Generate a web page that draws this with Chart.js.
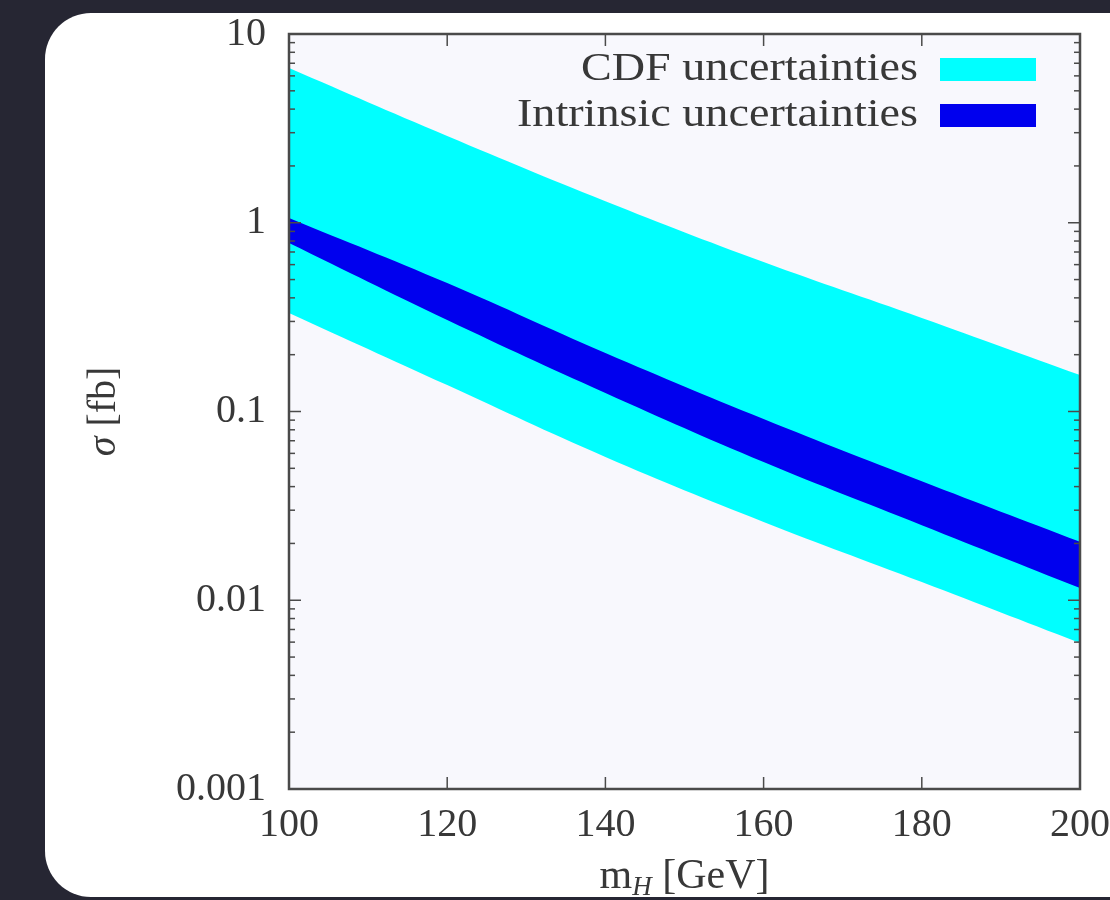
<!DOCTYPE html>
<html>
<head>
<meta charset="utf-8">
<script src="https://cdn.jsdelivr.net/npm/chart.js@4.4.1/dist/chart.umd.min.js"></script>
<style>
  html, body { margin: 0; padding: 0; background: #262633; width: 1110px; height: 900px; overflow: hidden; }
  .card { position: absolute; left: 45px; top: 13px; width: 1110px; height: 884px; background: #fff; border-radius: 46px; }
  #wrap { position: absolute; left: 0; top: 0; width: 1110px; height: 900px; }
</style>
</head>
<body>
<div class="card"></div>
<div id="wrap"><canvas id="sigmaChart" width="1110" height="900"></canvas></div>
<script>
// ---------- Data ----------
const massPoints = [100, 120, 140, 160, 180, 200];
const cdfUpper = [6.6, 2.88, 1.30, 0.619, 0.313, 0.156];
const cdfLower = [0.333, 0.138, 0.0574, 0.026, 0.0125, 0.00594];
const intrinsicUpper = [1.06, 0.479, 0.204, 0.0912, 0.0427, 0.0204];
const intrinsicLower = [0.78, 0.305, 0.1253, 0.054, 0.025, 0.0116];

const xTicks = [100, 120, 140, 160, 180, 200];
const yTicks = [0.001, 0.01, 0.1, 1, 10];
const yTickLabels = ['0.001', '0.01', '0.1', '1', '10'];
const legendLabels = ['CDF uncertainties', 'Intrinsic uncertainties'];
const legendColors = ['#00ffff', '#0000ee'];

// ---------- Helpers ----------
const SERIF = '"Liberation Serif", "DejaVu Serif", serif';
const TEXT = '#383838';

function toPoints(vals) {
  return massPoints.map((m, i) => ({ x: m, y: vals[i] }));
}

function line(ctx, x1, y1, x2, y2) {
  ctx.beginPath(); ctx.moveTo(x1, y1); ctx.lineTo(x2, y2); ctx.stroke();
}

// ---------- Plugins ----------
const plotBackground = {
  id: 'plotBackground',
  beforeDatasetsDraw(chart) {
    const { ctx, chartArea: a } = chart;
    ctx.save();
    ctx.fillStyle = '#f8f8fd';
    ctx.fillRect(a.left, a.top, a.width, a.height);
    ctx.restore();
  }
};

const frameTicks = {
  id: 'frameTicks',
  afterDatasetsDraw(chart) {
    const { ctx, chartArea: a, scales: { x, y } } = chart;
    ctx.save();
    ctx.strokeStyle = '#4a4a4a';
    ctx.lineWidth = 1.5;
    // minor log ticks
    for (let e = -3; e < 1; e++) {
      for (let k = 2; k <= 9; k++) {
        const py = y.getPixelForValue(k * Math.pow(10, e));
        line(ctx, a.left, py, a.left + 6, py);
        line(ctx, a.right - 6, py, a.right, py);
      }
    }
    yTicks.forEach(v => {
      const py = y.getPixelForValue(v);
      line(ctx, a.left, py, a.left + 12, py);
      line(ctx, a.right - 12, py, a.right, py);
    });
    xTicks.forEach(v => {
      const px = x.getPixelForValue(v);
      line(ctx, px, a.bottom, px, a.bottom - 12);
      line(ctx, px, a.top, px, a.top + 12);
    });
    ctx.lineWidth = 2.5;
    ctx.strokeRect(a.left, a.top, a.width, a.height);
    ctx.restore();
  }
};

const labelsAndLegend = {
  id: 'labelsAndLegend',
  afterDraw(chart) {
    const { ctx, chartArea: a } = chart;
    ctx.save();

    // legend (gnuplot style: text right, key box after it)
    ctx.font = '40px ' + SERIF;
    ctx.textAlign = 'right';
    ctx.textBaseline = 'middle';
    const stretch = 401 / ctx.measureText(legendLabels[1]).width;
    const rows = [69, 115];
    legendLabels.forEach((lab, i) => {
      ctx.save();
      ctx.fillStyle = TEXT;
      ctx.translate(918, rows[i]);
      ctx.scale(stretch, 1);
      ctx.fillText(lab, 0, 0);
      ctx.restore();
      ctx.fillStyle = legendColors[i];
      ctx.fillRect(940, rows[i] - 11, 96, 23);
    });

    // x title: m_H [GeV]
    ctx.fillStyle = TEXT;
    ctx.textAlign = 'left';
    ctx.textBaseline = 'alphabetic';
    const cx = (a.left + a.right) / 2;
    ctx.font = '42px ' + SERIF;
    const wM = ctx.measureText('m').width;
    const wRest = ctx.measureText(' [GeV]').width;
    ctx.font = 'italic 27px ' + SERIF;
    const wH = ctx.measureText('H').width;
    const sx = cx - (wM + wH + wRest) / 2;
    const by = 888;
    ctx.font = '42px ' + SERIF;
    ctx.fillText('m', sx, by);
    ctx.font = 'italic 27px ' + SERIF;
    ctx.fillText('H', sx + wM, by + 7);
    ctx.font = '42px ' + SERIF;
    ctx.fillText(' [GeV]', sx + wM + wH, by);

    // y title: sigma [fb]
    ctx.translate(104, (a.top + a.bottom) / 2);
    ctx.rotate(-Math.PI / 2);
    ctx.font = 'italic 40px ' + SERIF;
    const wS = ctx.measureText('σ').width;
    ctx.font = '40px ' + SERIF;
    const wFb = ctx.measureText(' [fb]').width;
    const ox = -(wS + wFb) / 2;
    ctx.textBaseline = 'middle';
    ctx.font = 'italic 40px ' + SERIF;
    ctx.fillText('σ', ox, 0);
    ctx.font = '40px ' + SERIF;
    ctx.fillText(' [fb]', ox + wS, 0);
    ctx.restore();
  }
};

// ---------- Chart ----------
const band = (data, fill, color, order) => ({
  data: toPoints(data),
  fill: fill,
  backgroundColor: color,
  borderColor: color,
  borderWidth: 0,
  pointRadius: 0,
  tension: 0.4,
  order: order
});

new Chart(document.getElementById('sigmaChart'), {
  type: 'line',
  data: {
    datasets: [
      { label: legendLabels[1], ...band(intrinsicUpper, '+1', legendColors[1], 0) },
      { label: legendLabels[1] + ' lower', ...band(intrinsicLower, false, legendColors[1], 1) },
      { label: legendLabels[0], ...band(cdfUpper, '+1', legendColors[0], 2) },
      { label: legendLabels[0] + ' lower', ...band(cdfLower, false, legendColors[0], 3) }
    ]
  },
  options: {
    responsive: false,
    animation: false,
    layout: { padding: { left: 0, top: 34, right: 30, bottom: 0 } },
    plugins: { legend: { display: false }, tooltip: { enabled: false } },
    scales: {
      x: {
        type: 'linear',
        min: 100,
        max: 200,
        afterBuildTicks: s => { s.ticks = xTicks.map(v => ({ value: v })); },
        afterFit: s => { s.height = 111; s.paddingLeft = 0; s.paddingRight = 0; },
        grid: { display: false, drawTicks: false },
        border: { display: false },
        ticks: { padding: 12, color: TEXT, font: { family: SERIF, size: 40 }, maxRotation: 0, autoSkip: false }
      },
      y: {
        type: 'logarithmic',
        min: 0.001,
        max: 10,
        afterBuildTicks: s => { s.ticks = yTicks.map(v => ({ value: v })); },
        afterFit: s => { s.width = 289; s.paddingTop = 0; s.paddingBottom = 0; },
        grid: { display: false, drawTicks: false },
        border: { display: false },
        ticks: {
          padding: 23, color: TEXT, font: { family: SERIF, size: 40 }, autoSkip: false,
          callback: v => { const i = yTicks.indexOf(v); return i >= 0 ? yTickLabels[i] : ''; }
        }
      }
    }
  },
  plugins: [plotBackground, frameTicks, labelsAndLegend]
});
</script>
</body>
</html>
